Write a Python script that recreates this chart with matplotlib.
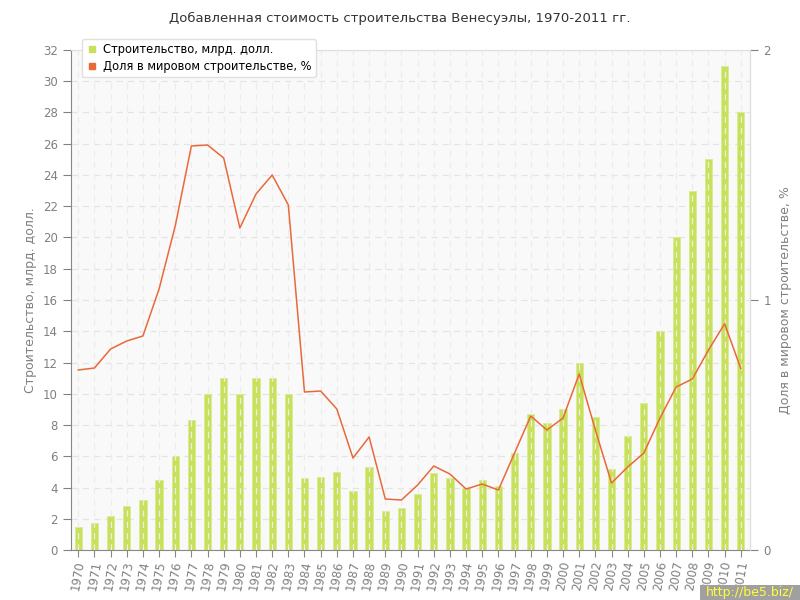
import matplotlib
matplotlib.use("Agg")
import matplotlib.pyplot as plt
from matplotlib.patches import Rectangle
from matplotlib.lines import Line2D

years = list(range(1970, 2012))
construction = [1.5, 1.7, 2.2, 2.8, 3.2, 4.5, 6.0, 8.3, 10.0, 11.0,
                10.0, 11.0, 11.0, 10.0, 4.6, 4.7, 5.0, 3.8, 5.3, 2.5,
                2.7, 3.6, 4.9, 4.6, 4.0, 4.5, 4.1, 6.2, 8.7, 8.1,
                9.0, 12.0, 8.5, 5.2, 7.3, 9.4, 14.0, 20.0, 23.0, 25.0,
                31.0, 28.0]
world_share = [0.72, 0.728, 0.804, 0.836, 0.856, 1.044, 1.296, 1.616, 1.62, 1.568,
               1.288, 1.424, 1.5, 1.38, 0.632, 0.636, 0.564, 0.368, 0.452, 0.204,
               0.2, 0.26, 0.336, 0.304, 0.244, 0.264, 0.24, 0.388, 0.536, 0.48,
               0.528, 0.704, 0.48, 0.268, 0.332, 0.388, 0.528, 0.652, 0.684, 0.8,
               0.905, 0.726]

title = "Добавленная стоимость строительства Венесуэлы, 1970-2011 гг."
left_label = "Строительство, млрд. долл."
right_label = "Доля в мировом строительстве, %"

BAR = "#c8e15a"
LINE = "#e8693a"
TXT = "#808080"

plt.rcParams['font.family'] = ['DejaVu Sans']
fig = plt.figure(figsize=(8, 6), dpi=100)
ax = fig.add_axes([0.08875, 0.0833, 0.84875, 0.8334])
ax.set_facecolor("#f9f9f9")
x = list(range(len(years)))

# grid
for v in range(0, 33, 2):
    ax.axhline(v, color="#e4e4e4", lw=0.9, ls=(0, (5, 4)), zorder=0)
ax.bar(x, construction, width=0.45, color=BAR, edgecolor="#d8ec90", lw=0.6, zorder=2)
for xi in x:
    ax.axvline(xi, color="#ececec", lw=0.9, ls=(0, (5, 4)), zorder=3)

ax.set_xlim(-0.45, 41.57)
ax.set_ylim(0, 32)
ax.set_yticks(range(0, 33, 2))
ax.set_xticks(x)
ax.set_xticklabels([str(y) for y in years], rotation=80, fontsize=8.5, color=TXT)
ax.tick_params(axis='y', labelsize=8.5, colors=TXT, length=6, width=0.8)
ax.tick_params(axis='x', length=5, width=0.8, colors="#888888", labelcolor=TXT, pad=2)
ax.set_ylabel(left_label, fontsize=9, color=TXT, labelpad=4)
for s in ['left', 'bottom']:
    ax.spines[s].set_color("#888888")
for s in ['top', 'right']:
    ax.spines[s].set_color("#dddddd")

ax2 = ax.twinx()
ax2.plot(x, world_share, color=LINE, lw=1.1, zorder=5)
ax2.set_ylim(0, 2)
ax2.set_yticks([0, 1, 2])
ax2.tick_params(axis='y', labelsize=8.5, colors=TXT, length=6, width=0.8)
ax2.set_ylabel(right_label, fontsize=9, color=TXT, labelpad=6)
for s in ['top', 'left', 'bottom']:
    ax2.spines[s].set_visible(False)
ax2.spines['right'].set_color("#dddddd")

fig.text(0.5, 0.97, title, ha='center', va='center', fontsize=9.5, color="#333333")

handles = [Line2D([], [], marker='s', ls='none', color=BAR, markersize=5),
           Line2D([], [], marker='s', ls='none', color=LINE, markersize=5)]
leg = fig.legend(handles, ["Строительство, млрд. долл.", "Доля в мировом строительстве, %"],
                 loc='upper left', bbox_to_anchor=(0.095, 0.945), fontsize=8.3,
                 frameon=True, fancybox=True, handletextpad=0.4, borderpad=0.4,
                 labelspacing=0.3, handlelength=1.0)
leg.get_frame().set_edgecolor("#e0e0e0")
leg.get_frame().set_facecolor("white")
leg.get_frame().set_alpha(1)
leg.set_zorder(10)

fig.patches.append(Rectangle((0.875, 0.0), 0.125, 0.025, transform=fig.transFigure,
                             facecolor="#a0a0a0", edgecolor='none', zorder=20))
fig.text(0.9375, 0.0125, "http://be5.biz/", ha='center', va='center', fontsize=9,
         color="#ffff33", zorder=21)

fig.savefig("out.png", dpi=100)
